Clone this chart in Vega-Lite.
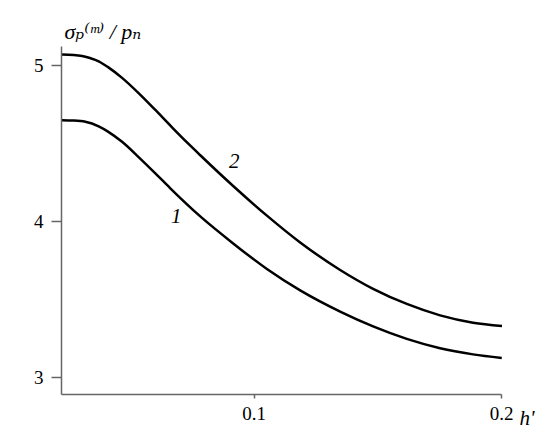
{
  "$schema": "https://vega.github.io/schema/vega-lite/v6.json",
  "width": 440,
  "height": 348,
  "autosize": {"type": "none"},
  "padding": {"left": 61, "top": 46, "right": 49, "bottom": 52},
  "background": "white",
  "config": {"view": {"stroke": null}},
  "datasets": {
    "curves": [
      {"h": 0.02265, "v": 5.067, "curve": "2"},
      {"h": 0.03072, "v": 5.058, "curve": "2"},
      {"h": 0.03407, "v": 5.044, "curve": "2"},
      {"h": 0.03742, "v": 5.024, "curve": "2"},
      {"h": 0.04134, "v": 4.985, "curve": "2"},
      {"h": 0.04687, "v": 4.918, "curve": "2"},
      {"h": 0.05345, "v": 4.822, "curve": "2"},
      {"h": 0.06032, "v": 4.712, "curve": "2"},
      {"h": 0.06706, "v": 4.601, "curve": "2"},
      {"h": 0.07364, "v": 4.496, "curve": "2"},
      {"h": 0.07848, "v": 4.422, "curve": "2"},
      {"h": 0.09177, "v": 4.225, "curve": "2"},
      {"h": 0.10541, "v": 4.035, "curve": "2"},
      {"h": 0.11885, "v": 3.863, "curve": "2"},
      {"h": 0.13500, "v": 3.687, "curve": "2"},
      {"h": 0.14832, "v": 3.566, "curve": "2"},
      {"h": 0.16193, "v": 3.469, "curve": "2"},
      {"h": 0.17539, "v": 3.396, "curve": "2"},
      {"h": 0.18871, "v": 3.349, "curve": "2"},
      {"h": 0.20040, "v": 3.328, "curve": "2"},
      {"h": 0.02265, "v": 4.646, "curve": "1"},
      {"h": 0.02721, "v": 4.644, "curve": "1"},
      {"h": 0.03205, "v": 4.636, "curve": "1"},
      {"h": 0.03742, "v": 4.607, "curve": "1"},
      {"h": 0.04134, "v": 4.572, "curve": "1"},
      {"h": 0.04687, "v": 4.508, "curve": "1"},
      {"h": 0.05345, "v": 4.412, "curve": "1"},
      {"h": 0.06032, "v": 4.306, "curve": "1"},
      {"h": 0.06637, "v": 4.210, "curve": "1"},
      {"h": 0.07848, "v": 4.030, "curve": "1"},
      {"h": 0.09177, "v": 3.857, "curve": "1"},
      {"h": 0.10541, "v": 3.693, "curve": "1"},
      {"h": 0.11885, "v": 3.556, "curve": "1"},
      {"h": 0.13500, "v": 3.420, "curve": "1"},
      {"h": 0.14832, "v": 3.325, "curve": "1"},
      {"h": 0.16193, "v": 3.245, "curve": "1"},
      {"h": 0.17539, "v": 3.185, "curve": "1"},
      {"h": 0.18871, "v": 3.146, "curve": "1"},
      {"h": 0.20030, "v": 3.123, "curve": "1"}
    ],
    "labels": [
      {"h": 0.0688, "v": 3.985, "label": "1"},
      {"h": 0.0922, "v": 4.338, "label": "2"}
    ]
  },
  "layer": [
    {
      "data": {"name": "curves"},
      "mark": {"type": "line", "color": "black", "strokeWidth": 2.5, "interpolate": "monotone"},
      "encoding": {
        "x": {
          "field": "h", "type": "quantitative",
          "scale": {"domain": [0.0222, 0.2], "nice": false, "zero": false},
          "axis": {
            "values": [0.1, 0.2], "format": ".1f", "grid": false,
            "domainColor": "#666", "domainWidth": 1.5, "tickColor": "#666", "tickWidth": 1.5, "tickSize": 4,
            "labelFont": "Times New Roman, Liberation Serif, DejaVu Serif, serif", "labelFontSize": 19, "labelColor": "black",
            "labelBaseline": "alphabetic", "labelPadding": 21, "labelFlush": false,
            "title": "h'", "titleFont": "Times New Roman, Liberation Serif, DejaVu Serif, serif", "titleFontStyle": "italic", "titleFontWeight": "normal",
            "titleFontSize": 21, "titleColor": "black", "titleX": 458, "titleY": 30, "titleAlign": "left",
            "titleBaseline": "alphabetic"
          }
        },
        "y": {
          "field": "v", "type": "quantitative",
          "scale": {"domain": [2.892, 5.122], "nice": false, "zero": false},
          "axis": {
            "values": [3, 4, 5], "format": "d", "grid": false,
            "domainColor": "#666", "domainWidth": 1.5, "tickColor": "#666", "tickWidth": 1.5, "tickSize": 10,
            "labelFont": "Times New Roman, Liberation Serif, DejaVu Serif, serif", "labelFontSize": 19, "labelColor": "black",
            "labelPadding": 8, "labelFlush": false,
            "title": "σₚ⁽ᵐ⁾ / pₙ", "titleFont": "Times New Roman, Liberation Serif, DejaVu Serif, serif", "titleFontStyle": "italic", "titleFontWeight": "normal",
            "titleFontSize": 22, "titleColor": "black", "titleAngle": 0, "titleX": 3, "titleY": -8,
            "titleAlign": "left", "titleBaseline": "alphabetic"
          }
        },
        "detail": {"field": "curve", "type": "nominal"}
      }
    },
    {
      "data": {"name": "labels"},
      "mark": {"type": "text", "font": "Times New Roman, Liberation Serif, DejaVu Serif, serif", "fontStyle": "italic", "fontSize": 21, "color": "black", "align": "center", "baseline": "alphabetic"},
      "encoding": {
        "x": {"field": "h", "type": "quantitative"},
        "y": {"field": "v", "type": "quantitative"},
        "text": {"field": "label", "type": "nominal"}
      }
    }
  ]
}
